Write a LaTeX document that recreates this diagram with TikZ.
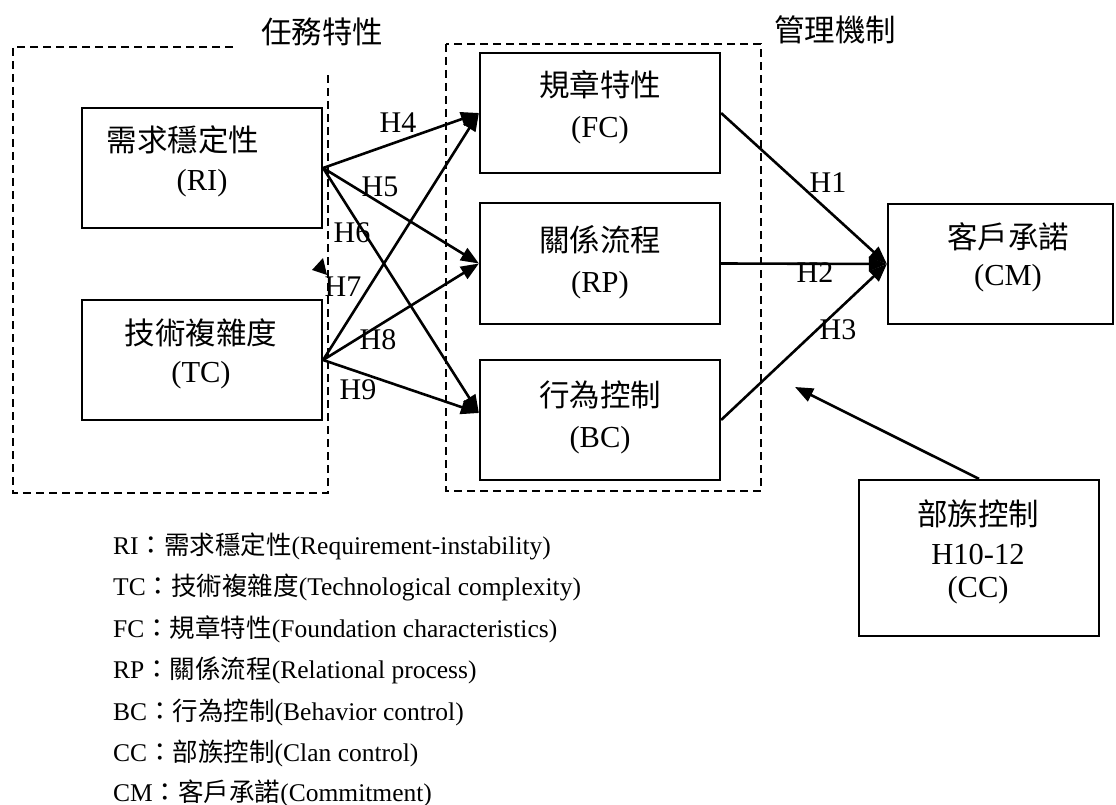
\documentclass[tikz,border=0pt]{standalone}
\usepackage{fontspec}
\setmainfont{Liberation Serif}
\newfontfamily\cjk{Noto Sans CJK TC}
\usetikzlibrary{arrows.meta}
\newcommand{\zh}[1]{{\cjk #1}}
\begin{document}
\begin{tikzpicture}[x=1pt,y=-1pt,
  boxnode/.style={draw,line width=2.2pt,inner sep=0pt,minimum width=240pt,minimum height=120pt},
  txt/.style={inner sep=0pt,font=\fontsize{30.5}{36}\selectfont},
  hlbl/.style={inner sep=0pt,font=\fontsize{30}{36}\selectfont},
  legend/.style={inner sep=0pt,anchor=base west,font=\fontsize{25.5}{30}\selectfont},
  grp/.style={line width=2.6pt,dash pattern=on 8pt off 5pt},
  arr/.style={draw,line width=2.6pt,-{Triangle[length=18pt,width=14pt]}}]
\useasboundingbox (0,0) rectangle (1116,805);
% group frames
\draw[grp] (233,47) -- (13,47) -- (13,493) -- (328,493) -- (328,72);
\draw[grp] (446,44) rectangle (761,491);
\node[txt] (t1) at (322,32) {\zh{任務特性}};
\node[txt] (t2) at (835,30) {\zh{管理機制}};
% boxes
\node[boxnode] (RI) at (202,168) {};
\node[boxnode] (TC) at (202,360) {};
\node[boxnode] (FC) at (600,113) {};
\node[boxnode,minimum height=121pt] (RP) at (600,263.5) {};
\node[boxnode] (BC) at (600,420) {};
\node[boxnode,minimum width=225pt] (CM) at (1000.5,264) {};
\node[boxnode,minimum height=156pt] (CC) at (979,558) {};
% box texts
\node[txt] (RIa) at (183,140) {\zh{需求穩定性}};
\node[txt] (RIb) at (202,183) {(RI)};
\node[txt] (TCa) at (201,333) {\zh{技術複雜度}};
\node[txt] (TCb) at (201,375) {(TC)};
\node[txt] (FCa) at (600,85) {\zh{規章特性}};
\node[txt] (FCb) at (600,130) {(FC)};
\node[txt] (RPa) at (600,240) {\zh{關係流程}};
\node[txt] (RPb) at (600,285) {(RP)};
\node[txt] (BCa) at (600,395) {\zh{行為控制}};
\node[txt] (BCb) at (600,440) {(BC)};
\node[txt] (CMa) at (1008,237) {\zh{客戶承諾}};
\node[txt] (CMb) at (1008,278) {(CM)};
\node[txt] (CCa) at (978,514) {\zh{部族控制}};
\node[txt] (CCb) at (978,555) {H10-12};
\node[txt] (CCc) at (978,590) {(CC)};
% arrows
\draw[arr] (RI.east) -- (FC.west);
\draw[arr] (RI.east) -- (RP.west);
\draw[arr] (RI.east) -- ([yshift=7pt]BC.west);
\draw[arr] (TC.east) -- (FC.west);
\draw[arr] (TC.east) -- (RP.west);
\draw[arr] (TC.east) -- ([yshift=7pt]BC.west);
\draw[arr] (FC.east) -- (CM.west);
\draw[arr] (RP.east) -- (CM.west);
\draw[arr] (BC.east) -- (CM.west);
\coordinate (CCt) at (795,387);
\draw[arr] (CC.north) -- (CCt);
\fill (312,270) -- (323,258) -- (327,275) -- cycle;
% arrow labels
\node[hlbl] (h4) at (398,123) {H4};
\node[hlbl] (h5) at (380,187) {H5};
\node[hlbl] (h6) at (352,233) {H6};
\node[hlbl] (h7) at (343,287) {H7};
\node[hlbl] (h8) at (378,340) {H8};
\node[hlbl] (h9) at (358,390) {H9};
\node[hlbl] (h1) at (828,183) {H1};
\node[hlbl] (h2) at (815,273) {H2};
\node[hlbl] (h3) at (838,330) {H3};
% legend
\node[legend] (L1) at (113,554) {RI\zh{：需求穩定性}(Requirement-instability)};
\node[legend] (L2) at (113,595.5) {TC\zh{：技術複雜度}(Technological complexity)};
\node[legend] (L3) at (113,637) {FC\zh{：規章特性}(Foundation characteristics)};
\node[legend] (L4) at (113,678.5) {RP\zh{：關係流程}(Relational process)};
\node[legend] (L5) at (113,720) {BC\zh{：行為控制}(Behavior control)};
\node[legend] (L6) at (113,761.5) {CC\zh{：部族控制}(Clan control)};
\node[legend] (L7) at (113,801) {CM\zh{：客戶承諾}(Commitment)};
\end{tikzpicture}
\end{document}
